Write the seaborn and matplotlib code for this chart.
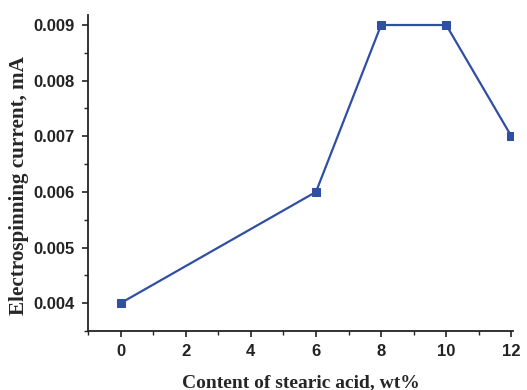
import matplotlib
matplotlib.use("Agg")
import matplotlib.pyplot as plt
import seaborn as sns
import pandas as pd
from matplotlib.ticker import MultipleLocator, AutoMinorLocator

content = [0, 6, 8, 10, 12]
current = [0.004, 0.006, 0.009, 0.009, 0.007]
x_ticks = [0, 2, 4, 6, 8, 10, 12]
y_ticks = [0.004, 0.005, 0.006, 0.007, 0.008, 0.009]

sns.set_style("ticks")
plt.rcParams['font.family'] = ['Liberation Sans', 'DejaVu Sans']

df = pd.DataFrame({"content": content, "current": current})

fig = plt.figure(figsize=(5.27, 3.9), dpi=100)
ax = fig.add_axes([88/527, 1-331/390, (513-88)/527, (331-15)/390])
color = "#2f4fa3"
sns.lineplot(data=df, x="content", y="current", ax=ax, color=color, lw=1.6,
             marker="s", markersize=6, markeredgecolor=color, markerfacecolor=color)

ax.set_xlim(-1, 12.05)
ax.set_ylim(0.0035, 0.00918)
ax.set_xticks(x_ticks)
ax.set_yticks(y_ticks)
ax.set_yticklabels([f"{v:.3f}" for v in y_ticks])
ax.xaxis.set_minor_locator(MultipleLocator(1))
ax.yaxis.set_minor_locator(AutoMinorLocator(2))
for s in ["top", "right"]:
    ax.spines[s].set_visible(False)
for s in ["left", "bottom"]:
    ax.spines[s].set_linewidth(1.3)
    ax.spines[s].set_color("#222222")
ax.tick_params(which="major", direction="out", length=4.5, width=1.2, color="#222222",
               labelsize=12, pad=5)
ax.tick_params(which="minor", direction="out", length=3, width=1.0, color="#222222")
for lab in ax.get_xticklabels() + ax.get_yticklabels():
    lab.set_fontweight("bold")
    lab.set_color("#222222")

ax.set_xlabel("Content of stearic acid, wt%", family=["Liberation Serif", "DejaVu Serif"],
              fontweight="bold", fontsize=14, labelpad=11)
ax.set_ylabel("Electrospinning current, mA", family=["Liberation Serif", "DejaVu Serif"],
              fontweight="bold", fontsize=15.2)
ax.yaxis.set_label_coords(-0.138, 0.459)

fig.savefig("out.png", dpi=100)
